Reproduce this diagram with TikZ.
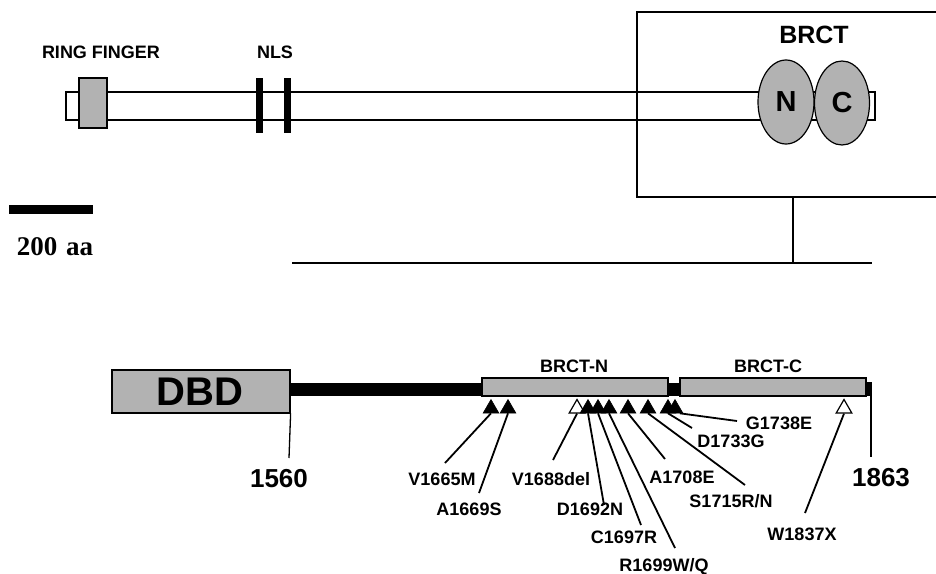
\documentclass[tikz,border=0pt]{standalone}
\usepackage{fontspec}
\setmainfont{Liberation Sans}
\newfontfamily\serifb{Liberation Serif}
\usetikzlibrary{shapes.geometric}
\definecolor{stipple}{gray}{0.7}
\begin{document}
\begin{tikzpicture}[x=1pt,y=-1pt,
  thin line/.style={line width=1.3pt},
  gbox/.style={draw,line width=1.2pt,fill=stipple,inner sep=0,rectangle},
  lbl/.style={font=\bfseries\fontsize{18}{20}\selectfont,inner sep=0,anchor=base},
  big/.style={font=\bfseries\fontsize{26}{28}\selectfont,inner sep=0,anchor=base},
  ftri/.style={regular polygon,regular polygon sides=3,minimum size=18pt,inner sep=0,fill=black,draw=black,line width=0.6pt},
  otri/.style={regular polygon,regular polygon sides=3,minimum size=18pt,inner sep=0,fill=white,draw=black,line width=1.2pt},
  leader/.style={line width=1.8pt},
  blk/.style={fill=black,draw=none,inner sep=0,rectangle}]
\path[use as bounding box] (0,0) rectangle (936,573);

% ---------- top: full-length protein ----------
\node[lbl] (rftxt) at (101,58) {RING FINGER};
\node[lbl] (nlstxt) at (275,58) {NLS};
\draw[thin line,fill=white] (66,92) rectangle (875,120);
\node[gbox,minimum width=28pt,minimum height=50pt] (rf) at (93,103) {};
\node[blk,minimum width=7pt,minimum height=55pt] (nls1) at (259.5,105.5) {};
\node[blk,minimum width=7pt,minimum height=55pt] (nls2) at (287.5,105.5) {};
% BRCT zoom box
\draw[thin line] (936,12) -- (637,12) -- (637,197) -- (936,197);
\node[lbl,font=\bfseries\fontsize{25}{27}\selectfont] (brcttxt) at (814,43) {BRCT};
\node[ellipse,draw,line width=1.2pt,fill=stipple,minimum width=56pt,minimum height=84pt,inner sep=0] (en) at (786,102) {};
\node[ellipse,draw,line width=1.2pt,fill=stipple,minimum width=55pt,minimum height=84pt,inner sep=0] (ec) at (842,103) {};
\node[font=\bfseries\fontsize{29}{30}\selectfont,inner sep=0] (ntxt) at (en) {N};
\node[font=\bfseries\fontsize{29}{30}\selectfont,inner sep=0] (ctxt) at (ec) {C};
% connector to lower panel
\coordinate (bxb) at (793,197);
\coordinate (bxd) at (793,263);
\coordinate (hl) at (292,263);
\coordinate (hr) at (872,263);
\draw[thin line] (bxb) -- (bxd);
\draw[thin line] (hl) -- (hr);
% scale bar
\node[blk,minimum width=84pt,minimum height=9pt] (scale) at (51,209.5) {};
\node[inner sep=0,anchor=base,font=\serifb\bfseries\fontsize{27}{29}\selectfont] (scaletxt) at (55,255) {200\,\,aa};

% ---------- bottom: C-terminal region ----------
\node[blk,minimum width=582pt,minimum height=13pt] (spine) at (581,389.5) {};
\node[blk,minimum width=6pt,minimum height=14pt] (stub) at (869,389) {};
\node[gbox,minimum width=178pt,minimum height=43pt] (dbd) at (201,391.5) {};
\node[font=\bfseries\fontsize{40}{42}\selectfont,inner sep=0,anchor=base] (dbdtxt) at (200,405) {DBD};
\node[gbox,minimum width=186pt,minimum height=18pt] (bn) at (575,387) {};
\node[gbox,minimum width=186pt,minimum height=18pt] (bc) at (773,387) {};
\node[lbl] (bntxt) at (574,372) {BRCT-N};
\node[lbl] (bctxt) at (768,372) {BRCT-C};
% position ticks
\coordinate (t1560) at (289,458);
\coordinate (t1863a) at (871,396);
\coordinate (t1863) at (871,457);
\draw[thin line] (dbd.south east) -- (t1560);
\draw[thin line] (t1863a) -- (t1863);
\node[big] (p1560) at (279,487) {1560};
\node[big] (p1863) at (881,486) {1863};

% triangles (markers)
\node[otri] (m3) at (577,408.5) {};
\node[otri] (m11) at (844,408.5) {};
\node[ftri] (m1) at (491,408.5) {};
\node[ftri] (m2) at (508,408.5) {};
\node[ftri] (m4) at (588,408.5) {};
\node[ftri] (m5) at (598,408.5) {};
\node[ftri] (m6) at (609,408.5) {};
\node[ftri] (m7) at (628,408.5) {};
\node[ftri] (m8) at (648,408.5) {};
\node[ftri] (m9) at (668,408.5) {};
\node[ftri] (m10) at (675,408.5) {};

% labels
\node[lbl] (l1) at (442,485) {V1665M};
\node[lbl] (l2) at (469,515) {A1669S};
\node[lbl] (l3) at (551,485) {V1688del};
\node[lbl] (l4) at (590,515) {D1692N};
\node[lbl] (l5) at (624,543) {C1697R};
\node[lbl] (l6) at (664,571) {R1699W/Q};
\node[lbl] (l7) at (682,483) {A1708E};
\node[lbl] (l8) at (731,507) {S1715R/N};
\node[lbl] (l9) at (731,447) {D1733G};
\node[lbl] (l10) at (779,429) {G1738E};
\node[lbl] (l11) at (802,540) {W1837X};

% leader ends
\coordinate (e1) at (445,463);
\coordinate (e2) at (479,493);
\coordinate (e3) at (553,460);
\coordinate (e4) at (604,505);
\coordinate (e5) at (641,525);
\coordinate (e6) at (675,548);
\coordinate (e7) at (665,459);
\coordinate (e8) at (745,485);
\coordinate (e9) at (692,428);
\coordinate (e10) at (737,421);
\coordinate (e11) at (805,513);

\draw[leader] (m1.south) -- (e1);
\draw[leader] (m2.south) -- (e2);
\draw[leader] (m3.south) -- (e3);
\draw[leader] (m4.south) -- (e4);
\draw[leader] (m5.south) -- (e5);
\draw[leader] (m6.south) -- (e6);
\draw[leader] (m7.south) -- (e7);
\draw[leader] (m8.south) -- (e8);
\draw[leader] (m9.south) -- (e9);
\draw[leader] (m10.south east) -- (e10);
\draw[leader] (m11.south) -- (e11);
\end{tikzpicture}
\end{document}
